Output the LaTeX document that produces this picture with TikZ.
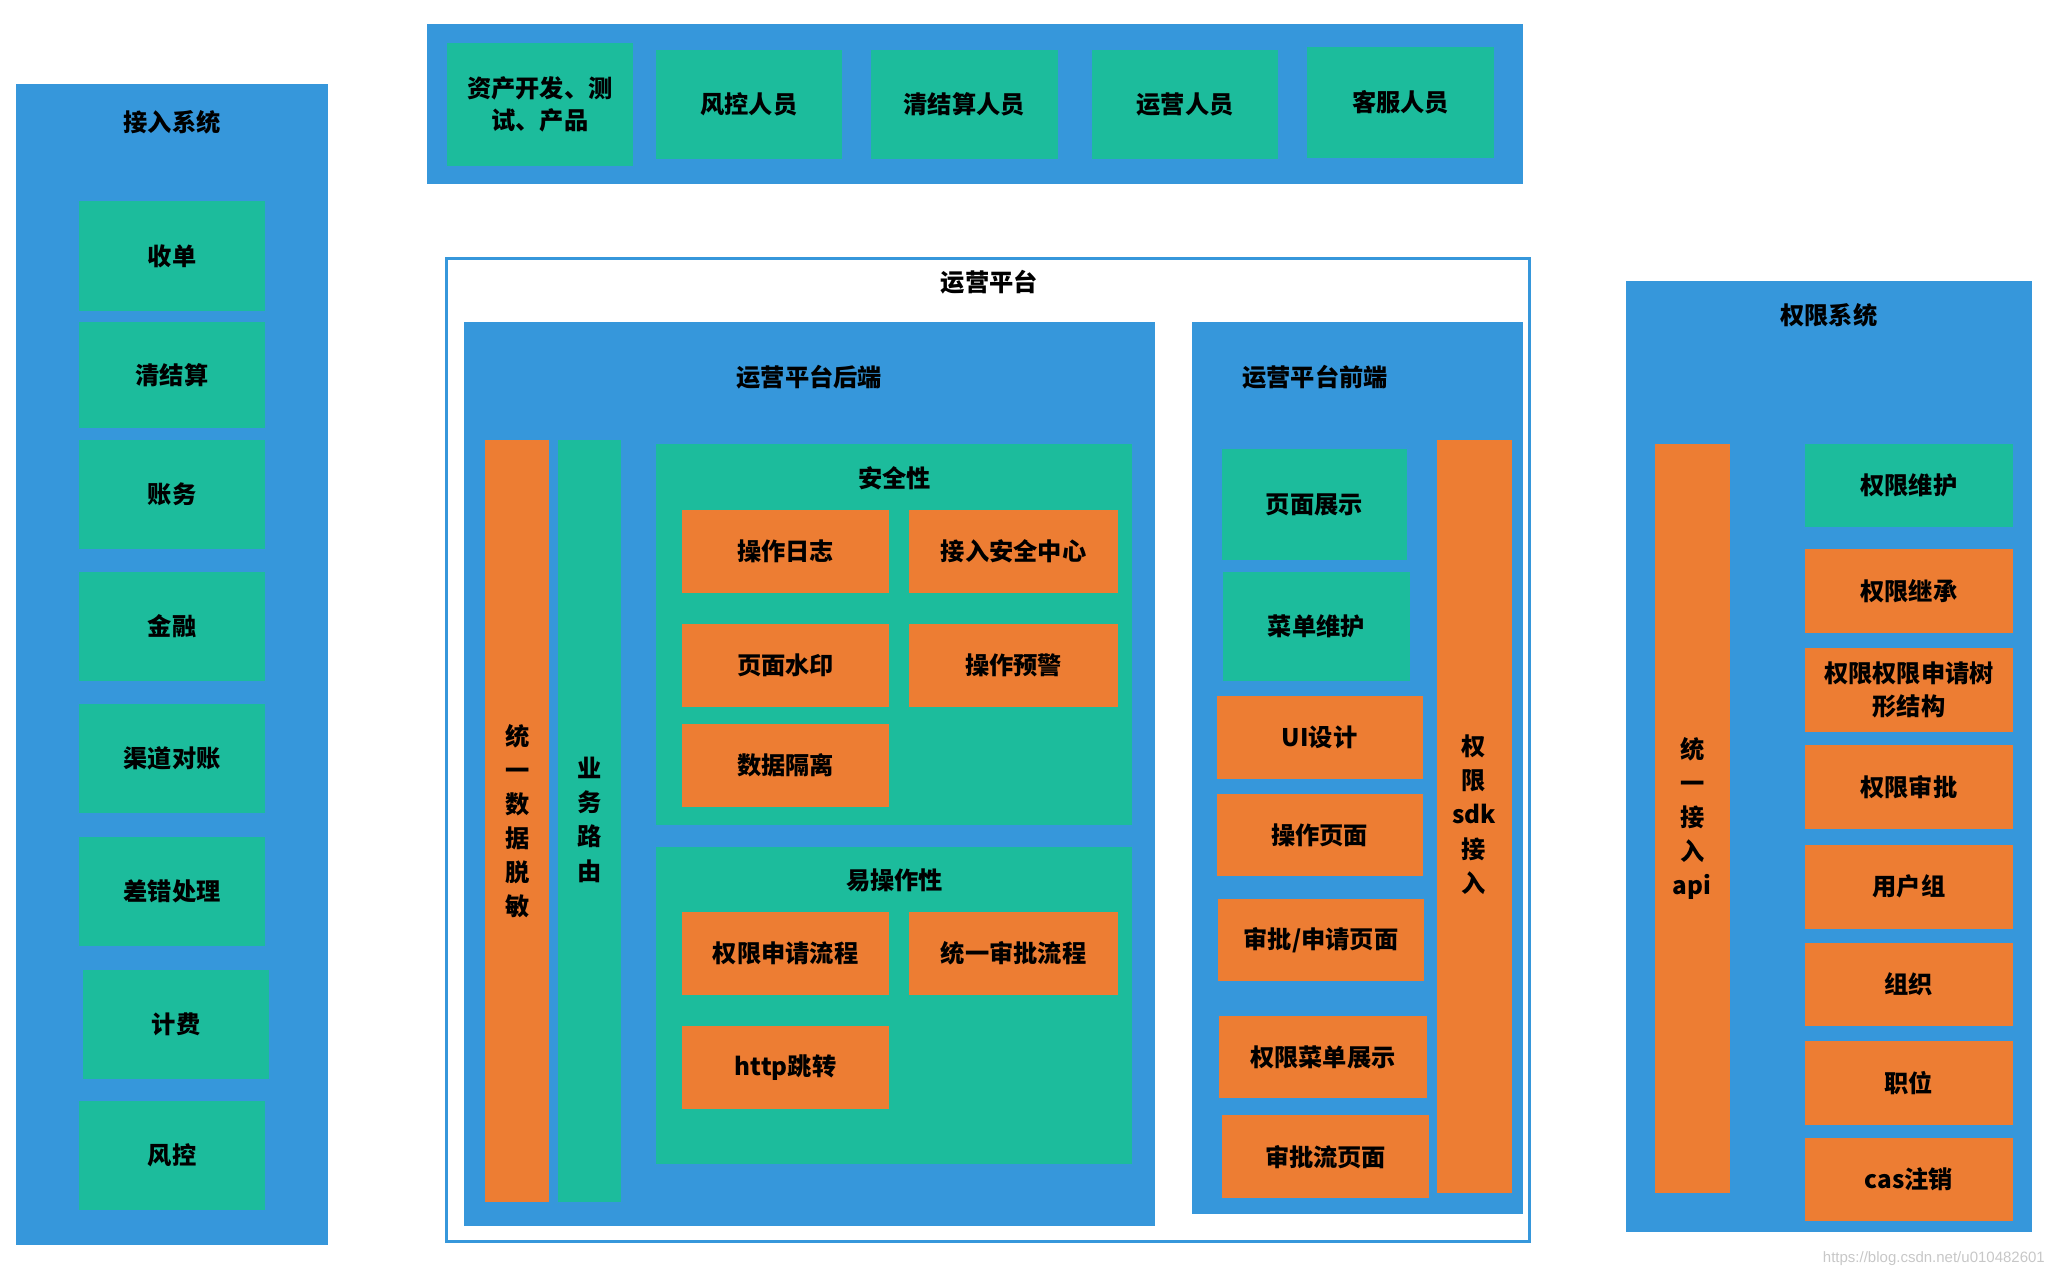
\documentclass[tikz,border=0pt]{standalone}
\usepackage{fontspec}
\setmainfont{Noto Sans CJK SC}
\setsansfont{Liberation Sans}
\definecolor{pblue}{RGB}{54,151,219}
\definecolor{pgreen}{RGB}{28,188,156}
\definecolor{porange}{RGB}{237,125,51}
\tikzset{
  panel/.style={fill=pblue, draw=none, inner sep=0pt},
  gbox/.style={fill=pgreen, draw=none, inner sep=0pt, align=center, font=\fontsize{10.5}{14}\selectfont\bfseries},
  obox/.style={fill=porange, draw=none, inner sep=0pt, align=center, font=\fontsize{10.5}{14}\selectfont\bfseries},
  vbox/.style={inner sep=0pt, align=center, font=\fontsize{10.5}{14.8}\selectfont\bfseries},
  ttl/.style={inner sep=0pt, font=\fontsize{10.5}{14}\selectfont\bfseries},
  frame/.style={fill=white, draw=pblue, line width=1.3pt, inner sep=0pt}
}
\newcommand\bx[7]{%
  \pgfmathsetmacro\bw{(#5-#3)*0.02}%
  \pgfmathsetmacro\bh{(#6-#4)*0.02}%
  \node[#1, minimum width=\bw cm, minimum height=\bh cm] (#2) at ({(#3+#5)/2},{(#4+#6)/2}) {#7};}
\begin{document}
\begin{tikzpicture}[x=0.02cm,y=-0.02cm]
\useasboundingbox (0,0) rectangle (1568,971);

% ---------- 接入系统 ----------
\bx{panel}{jr}{12}{64}{250}{948}{}
\node[ttl] (jrt) at (131,93) {接入系统};
\bx{gbox}{sd}{60}{153}{202}{237}{收单}
\bx{gbox}{qjs}{60}{245}{202}{326}{清结算}
\bx{gbox}{zw}{60}{335}{202}{418}{账务}
\bx{gbox}{jinr}{60}{435}{202}{518}{金融}
\bx{gbox}{qddz}{60}{536}{202}{619}{渠道对账}
\bx{gbox}{cccl}{60}{637}{202}{720}{差错处理}
\bx{gbox}{jf}{63}{738}{205}{821}{计费}
\bx{gbox}{fk}{60}{838}{202}{921}{风控}

% ---------- 人员 ----------
\bx{panel}{ry}{325}{18}{1159}{140}{}
\bx{gbox}{zc}{340}{33}{482}{126}{资产开发、测\\试、产品}
\bx{gbox}{fkry}{499}{38}{641}{121}{风控人员}
\bx{gbox}{qjsry}{663}{38}{805}{121}{清结算人员}
\bx{gbox}{yyry}{831}{38}{973}{121}{运营人员}
\bx{gbox}{kfry}{995}{36}{1137}{120}{客服人员}

% ---------- 运营平台 ----------
\bx{frame}{yypt}{340}{197}{1164}{945}{}
\node[ttl] (yyptt) at (753,215) {运营平台};

% 后端
\bx{panel}{hd}{353}{245}{879}{933}{}
\node[ttl] (hdt) at (616,287) {运营平台后端};
\bx{obox}{tysj}{369}{335}{418}{915}{}
\node[vbox] (tysjt) at (394,625) {统\\一\\数\\据\\脱\\敏};
\bx{gbox}{ywly}{425}{335}{473}{915}{}
\node[vbox] (ywlyt) at (449,624) {业\\务\\路\\由};

\bx{gbox}{aqx}{499}{338}{862}{628}{}
\node[ttl] (aqxt) at (681,364) {安全性};
\bx{obox}{czrz}{519}{388}{677}{451}{操作日志}
\bx{obox}{jraq}{692}{388}{851}{451}{接入安全中心}
\bx{obox}{ymsy}{519}{475}{677}{538}{页面水印}
\bx{obox}{czyj}{692}{475}{851}{538}{操作预警}
\bx{obox}{sjgl}{519}{551}{677}{614}{数据隔离}

\bx{gbox}{yczx}{499}{645}{862}{886}{}
\node[ttl] (yczxt) at (681,670) {易操作性};
\bx{obox}{qxsq}{519}{694}{677}{757}{权限申请流程}
\bx{obox}{tysp}{692}{694}{851}{757}{统一审批流程}
\bx{obox}{http}{519}{781}{677}{844}{http跳转}

% 前端
\bx{panel}{qd}{907}{245}{1159}{924}{}
\node[ttl] (qdt) at (1001,287) {运营平台前端};
\bx{gbox}{ymzs}{930}{342}{1071}{426}{页面展示}
\bx{gbox}{cdwh}{931}{435}{1073}{518}{菜单维护}
\bx{obox}{uisj}{926}{530}{1083}{593}{UI设计}
\bx{obox}{czym}{926}{604}{1083}{667}{操作页面}
\bx{obox}{spsq}{927}{684}{1084}{747}{审批/申请页面}
\bx{obox}{qxcd}{928}{773}{1086}{836}{权限菜单展示}
\bx{obox}{splym}{930}{849}{1088}{912}{审批流页面}
\bx{obox}{sdk}{1094}{335}{1151}{908}{}
\node[vbox] (sdkt) at (1122,620) {权\\限\\sdk\\接\\入};

% ---------- 权限系统 ----------
\bx{panel}{qx}{1238}{214}{1547}{938}{}
\node[ttl] (qxt) at (1392,240) {权限系统};
\bx{obox}{api}{1260}{338}{1317}{908}{}
\node[vbox] (apit) at (1288,623) {统\\一\\接\\入\\api};
\bx{gbox}{qxwh}{1374}{338}{1532}{401}{权限维护}
\bx{obox}{qxjc}{1374}{418}{1532}{482}{权限继承}
\bx{obox}{qxsx}{1374}{493}{1532}{557}{权限权限申请树\\形结构}
\bx{obox}{qxsp}{1374}{567}{1532}{631}{权限审批}
\bx{obox}{yhz}{1374}{643}{1532}{707}{用户组}
\bx{obox}{zz}{1374}{718}{1532}{781}{组织}
\bx{obox}{zwei}{1374}{792}{1532}{856}{职位}
\bx{obox}{cas}{1374}{866}{1532}{929}{cas注销}

% watermark
\node[inner sep=0pt, text=black!22, font=\sffamily\fontsize{6.5}{7}\selectfont] (wm) at (1472,958) {https://blog.csdn.net/u010482601};
\end{tikzpicture}
\end{document}
